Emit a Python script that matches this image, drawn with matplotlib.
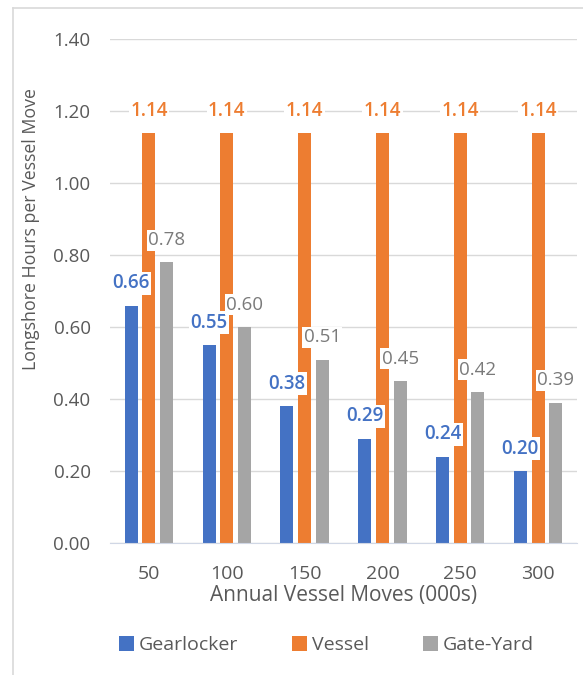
import numpy as np
import matplotlib.pyplot as plt
from matplotlib.lines import Line2D

plt.rcParams["font.family"] = ["Open Sans", "DejaVu Sans"]

categories = ["50", "100", "150", "200", "250", "300"]
gearlocker = [0.66, 0.55, 0.38, 0.29, 0.24, 0.20]
vessel = [1.14, 1.14, 1.14, 1.14, 1.14, 1.14]
gate_yard = [0.78, 0.60, 0.51, 0.45, 0.42, 0.39]

blue, orange, gray = "#4472C4", "#ED7D31", "#A5A5A5"
text_gray = "#595959"

fig = plt.figure(figsize=(5.83, 6.75), dpi=100)
ax = fig.add_axes([0.1887, 0.1956, 0.801, 0.746])

# light chart border (left and top edges visible)
fig.lines.append(Line2D([0.022, 0.022], [0.0, 0.988], transform=fig.transFigure,
                        color="#D9D9D9", linewidth=1.2))
fig.lines.append(Line2D([0.022, 1.0], [0.988, 0.988], transform=fig.transFigure,
                        color="#D9D9D9", linewidth=1.2))

x = np.arange(len(categories))
w = 0.167
step = 0.228
b1 = ax.bar(x - step, gearlocker, w, color=blue, label="Gearlocker", zorder=2)
b2 = ax.bar(x, vessel, w, color=orange, label="Vessel", zorder=2)
b3 = ax.bar(x + step, gate_yard, w, color=gray, label="Gate-Yard", zorder=2)

box = dict(boxstyle="square,pad=0.08", facecolor="white", edgecolor="none")
off = 0.062
for i in range(len(categories)):
    ax.text(x[i] - step, gearlocker[i] + off, f"{gearlocker[i]:.2f}", ha="center",
            va="center", color=blue, fontsize=13.5, fontweight="semibold", bbox=box, zorder=3)
    ax.text(x[i], vessel[i] + off, f"{vessel[i]:.2f}", ha="center", va="center",
            color=orange, fontsize=13.5, fontweight="semibold", bbox=box, zorder=3)
    ax.text(x[i] + step, gate_yard[i] + off, f"{gate_yard[i]:.2f}", ha="center",
            va="center", color="#7A7A7A", fontsize=13.5, bbox=box, zorder=3)

ax.set_ylim(0, 1.40)
ax.set_yticks(np.arange(0, 1.41, 0.2))
ax.set_yticklabels([f"{v:.2f}" for v in np.arange(0, 1.41, 0.2)])
ax.set_xlim(-0.5, 5.5)
ax.set_xticks(x)
ax.set_xticklabels(categories)
ax.grid(axis="y", color="#D9D9D9", linewidth=1, zorder=0)
for s in ["top", "right", "left"]:
    ax.spines[s].set_visible(False)
ax.spines["bottom"].set_color("#D0D7E5")
ax.tick_params(axis="x", length=0, colors=text_gray, labelsize=14, pad=16)
ax.tick_params(axis="y", length=0, colors=text_gray, labelsize=13.5, pad=14)
ax.set_xlabel("Annual Vessel Moves (000s)", color=text_gray, fontsize=15, labelpad=1)
ax.set_ylabel("Longshore Hours per Vessel Move", color=text_gray, fontsize=12.8)
ax.yaxis.set_label_coords(-0.150, 0.623)

fig.legend(handles=[b1, b2, b3], loc="center", bbox_to_anchor=(0.56, 0.044), ncol=3,
           frameon=False, fontsize=14, labelcolor=text_gray, handlelength=0.75,
           handleheight=0.75, columnspacing=2.8, handletextpad=0.25)

fig.savefig("out.png")
